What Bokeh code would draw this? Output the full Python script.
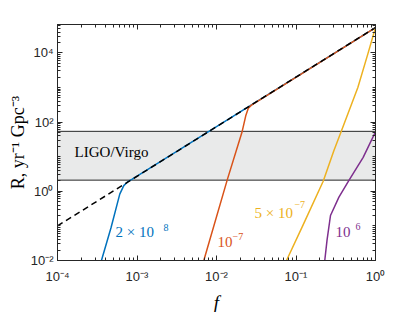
import math
from bokeh.plotting import figure
from bokeh.models import (FixedTicker, CustomJSTickFormatter, LogAxis, Label,
                          BoxAnnotation)
from bokeh.embed import file_html
from bokeh.resources import INLINE

# ---------------- data ----------------
x_range = (1e-4, 1.0)
y_range = (1e-2, 6.6e4)

x_ticks = [1e-4, 1e-3, 1e-2, 1e-1, 1.0]
x_tick_labels = ["10⁻⁴", "10⁻³", "10⁻²", "10⁻¹", "10⁰"]
y_ticks = [1e-2, 1.0, 1e2, 1e4]
y_tick_labels = ["10⁻²", "10⁰", "10²", "10⁴"]

ligo_low = 2.1
ligo_high = 54.0

# envelope (dashed)
env_f = [1e-4, 1.0]
env_R = [0.1, 5.4e4]

# 2e-8 (blue)
b_f = [3.57e-4, 4.73e-4, 6.07e-4, 6.82e-4, 7.59e-4, 8.71e-4, 1.0]
b_R = [0.01, 0.091, 0.83, 1.46, 1.86, 2.24, 5.4e4]

# 1e-7 (orange)
o_f = [6.92e-3, 1.365e-2, 2.104e-2, 2.344e-2, 2.512e-2, 2.754e-2, 1.0]
o_R = [0.01, 2.14, 53.7, 158.0, 251.0, 309.0, 5.4e4]

# 5e-7 (yellow)
y_f = [0.0759, 0.1213, 0.2198, 0.2992, 0.3733, 0.5998, 0.8017, 1.0]
y_R = [0.01, 0.1, 1.95, 14.8, 56.2, 1000.0, 9333.0, 5.4e4]

# 1e-6 (purple)
p_f = [0.2301, 0.2455, 0.2716, 0.3467, 0.4613, 0.6998, 1.0]
p_R = [0.01, 0.038, 0.1995, 0.676, 2.04, 9.55, 52.5]

BLUE = "#0072BD"
ORANGE = "#D95319"
YELLOW = "#EDB120"
PURPLE = "#7E2F8E"
AXC = "#262626"
SERIF = "Liberation Serif"

# ---------------- figure ----------------
p = figure(x_axis_type="log", y_axis_type="log",
           x_range=x_range, y_range=y_range,
           frame_width=318, frame_height=236,
           min_border_left=57, min_border_right=40,
           min_border_top=24, min_border_bottom=52,
           output_backend="svg", toolbar_location=None)
p.xgrid.visible = False
p.ygrid.visible = False
p.outline_line_color = AXC
p.outline_line_width = 1
p.background_fill_color = "white"
p.border_fill_color = "white"

x_minor = [k * 10 ** n for n in range(-4, 0) for k in range(2, 10)]
y_minor = [k * 10 ** n for n in range(-2, 5) for k in range(1, 10)
           if not (k == 1 and n % 2 == 0) and k * 10 ** n <= y_range[1]]

fmt_code = """
const lt = Math.log10(tick);
for (let i = 0; i < tvals.length; i++) {
  if (Math.abs(Math.log10(tvals[i]) - lt) < 1e-6) return tlabs[i];
}
return '';
"""
xfmt = CustomJSTickFormatter(args=dict(tvals=x_ticks, tlabs=x_tick_labels), code=fmt_code)
yfmt = CustomJSTickFormatter(args=dict(tvals=y_ticks, tlabs=y_tick_labels), code=fmt_code)
blank = CustomJSTickFormatter(code="return '';")

def style_axis(ax):
    ax.axis_line_color = AXC
    ax.major_tick_line_color = AXC
    ax.minor_tick_line_color = AXC
    ax.major_tick_in = 5
    ax.major_tick_out = 0
    ax.minor_tick_in = 3
    ax.minor_tick_out = 0
    ax.major_label_text_font = "Liberation Sans"
    ax.major_label_text_font_size = "13px"
    ax.major_label_text_color = AXC
    ax.axis_label_text_font = SERIF
    ax.axis_label_text_color = "black"

xt = FixedTicker(ticks=x_ticks, minor_ticks=x_minor)
yt = FixedTicker(ticks=y_ticks, minor_ticks=y_minor)

p.xaxis.ticker = xt
p.xaxis.formatter = xfmt
p.xaxis.major_label_standoff = 8
p.yaxis.ticker = yt
p.yaxis.formatter = yfmt
p.yaxis.major_label_standoff = 4
style_axis(p.xaxis[0])
style_axis(p.yaxis[0])

p.xaxis.axis_label = "f"
p.xaxis.axis_label_text_font_style = "italic"
p.xaxis.axis_label_text_font_size = "19px"
p.xaxis.axis_label_standoff = 5

p.yaxis.axis_label = "R, yr⁻¹ Gpc⁻³"
p.yaxis.axis_label_text_font_style = "normal"
p.yaxis.axis_label_text_font_size = "18px"
p.yaxis.axis_label_standoff = 0

top = LogAxis(ticker=FixedTicker(ticks=x_ticks, minor_ticks=x_minor), formatter=blank)
right = LogAxis(ticker=FixedTicker(ticks=y_ticks, minor_ticks=y_minor), formatter=blank)
style_axis(top)
style_axis(right)
top.major_label_standoff = 0
right.major_label_standoff = 0
p.add_layout(top, "above")
p.add_layout(right, "right")

# LIGO/Virgo band
band = BoxAnnotation(bottom=ligo_low, top=ligo_high, fill_color="#E9EAEA",
                     fill_alpha=1.0, line_color=AXC, line_alpha=1.0,
                     line_width=1, level="underlay")
p.add_layout(band)

# curves
for fx, ry, c in [(b_f, b_R, BLUE), (o_f, o_R, ORANGE), (y_f, y_R, YELLOW), (p_f, p_R, PURPLE)]:
    p.line(fx, ry, line_color=c, line_width=1.5)

p.line(env_f, env_R, line_color="black", line_width=1.5, line_dash="6 4")

# ---------------- texts ----------------
def lbl(x, y, text, color="black", size="15px", style="normal",
        align="left", baseline="alphabetic"):
    p.add_layout(Label(x=x, y=y, text=text, text_color=color, text_font=SERIF,
                       text_font_size=size, text_font_style=style,
                       text_align=align, text_baseline=baseline))

lbl(1.64e-4, 14.0, "LIGO/Virgo")
lbl(5.37e-4, 0.068, "2 × 10", BLUE)
lbl(2.15e-3, 0.089, "8", BLUE, size="10px")
lbl(1.03e-2, 0.0352, "10", ORANGE)
lbl(1.59e-2, 0.049, "−7", ORANGE, size="10px")
lbl(3.01e-2, 0.242, "5 × 10", YELLOW)
lbl(9.57e-2, 0.413, "−7", YELLOW, size="10px")
lbl(0.314, 0.068, "10", PURPLE)
lbl(0.56, 0.0955, "6", PURPLE, size="10px")

open("out.html", "w").write(file_html(p, INLINE))
